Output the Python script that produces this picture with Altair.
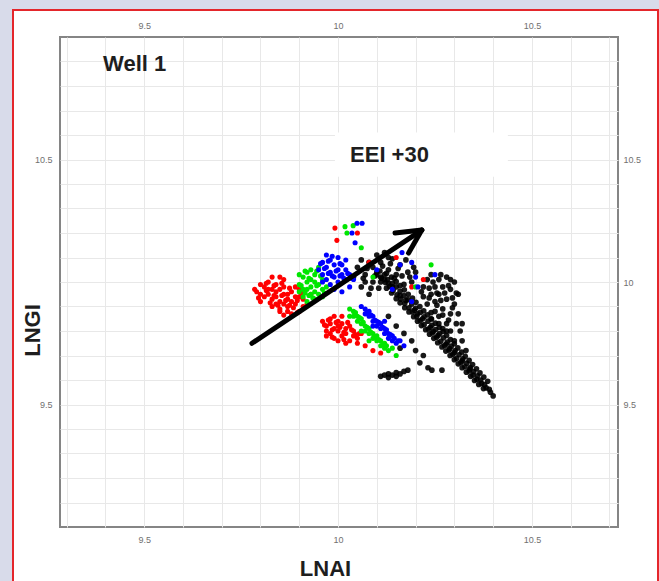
import altair as alt
import pandas as pd

# Crossplot of LNAI vs LNGI, Well 1, samples grouped by colour
red_pts = [
    (9.79, 9.96), (9.80, 9.99), (9.81, 9.94), (9.80, 9.92), (9.82, 9.97), (9.82, 10.00),
    (9.83, 9.93), (9.83, 9.90), (9.84, 9.96), (9.84, 9.99), (9.85, 9.92), (9.85, 9.89),
    (9.86, 9.95), (9.86, 9.98), (9.86, 10.01), (9.87, 9.93), (9.87, 9.90), (9.88, 9.96),
    (9.88, 9.87), (9.89, 9.94), (9.89, 9.91), (9.90, 9.97), (9.90, 9.88), (9.91, 9.93),
    (9.91, 9.90), (9.84, 9.94), (9.83, 9.97), (9.85, 9.97), (9.87, 9.95), (9.88, 9.92),
    (9.86, 9.91), (9.84, 9.91), (9.82, 9.95), (9.81, 9.98), (9.89, 9.98), (9.85, 10.02),
    (9.80, 9.95), (9.92, 9.91), (9.87, 9.88), (9.85, 9.88), (9.90, 9.94), (9.83, 10.02),
    (9.785, 9.97), (9.86, 9.865), (9.93, 9.95),
    (9.795, 9.935), (9.815, 9.965), (9.825, 9.915), (9.835, 9.985), (9.845, 9.905),
    (9.855, 9.945), (9.865, 9.925), (9.875, 9.975), (9.885, 9.895), (9.895, 9.925),
    (9.905, 9.955), (9.875, 9.905), (9.835, 9.945), (9.855, 9.995), (9.815, 9.995),
    (9.895, 9.875),
    (9.992, 10.22), (9.997, 10.17), (10.05, 10.20), (10.08, 10.08), (10.19, 9.98),
    (10.15, 10.10), (10.22, 10.01),
    (9.96, 9.84), (9.97, 9.82), (9.97, 9.80), (9.98, 9.85), (9.98, 9.83), (9.98, 9.79),
    (9.99, 9.81), (9.99, 9.77), (10.00, 9.84), (10.00, 9.82), (10.00, 9.80), (10.01, 9.78),
    (10.01, 9.83), (10.02, 9.81), (10.02, 9.79), (10.03, 9.76), (10.03, 9.82), (10.04, 9.80),
    (10.04, 9.78), (10.05, 9.77), (10.05, 9.75), (10.06, 9.79), (9.99, 9.86), (10.01, 9.86),
    (10.02, 9.75), (10.07, 9.74), (10.09, 9.72), (10.11, 9.71), (9.97, 9.78), (10.00, 9.76),
    (9.965, 9.825), (9.975, 9.845), (9.985, 9.805), (9.995, 9.835), (10.005, 9.815),
    (10.015, 9.795), (10.025, 9.835), (10.035, 9.805), (10.045, 9.785), (10.015, 9.765),
    (9.985, 9.775), (10.055, 9.79),
]

green_pts = [
    (9.90, 9.96), (9.90, 9.99), (9.91, 10.02), (9.91, 9.94), (9.92, 9.97), (9.92, 10.00),
    (9.92, 10.04), (9.93, 9.95), (9.93, 9.98), (9.93, 10.01), (9.94, 9.93), (9.94, 9.96),
    (9.94, 10.03), (9.95, 9.99), (9.95, 9.95), (9.95, 10.06), (9.96, 10.01), (9.96, 9.97),
    (9.91, 9.97), (9.94, 10.00), (9.93, 10.05), (9.92, 9.92), (9.96, 9.94), (9.97, 9.98),
    (9.90, 10.03),
    (9.905, 9.985), (9.915, 9.955), (9.925, 10.015), (9.935, 9.935), (9.945, 9.985),
    (9.955, 10.025), (9.965, 9.955), (9.925, 9.945), (9.945, 10.045), (9.915, 10.045),
    (10.018, 10.226), (10.023, 10.20), (10.039, 10.23), (10.06, 10.14), (10.09, 10.02),
    (10.20, 9.98), (10.24, 10.07),
    (10.03, 9.89), (10.04, 9.88), (10.04, 9.86), (10.05, 9.86), (10.05, 9.84), (10.06, 9.85),
    (10.06, 9.83), (10.07, 9.82), (10.07, 9.80), (10.08, 9.81), (10.08, 9.79), (10.09, 9.79),
    (10.09, 9.77), (10.10, 9.78), (10.10, 9.76), (10.11, 9.76), (10.11, 9.74), (10.12, 9.75),
    (10.12, 9.73), (10.13, 9.72), (10.14, 9.73), (10.03, 9.86), (10.06, 9.80), (10.08, 9.76),
    (10.15, 9.70),
    (10.045, 9.875), (10.055, 9.855), (10.065, 9.835), (10.075, 9.815), (10.085, 9.795),
    (10.095, 9.775), (10.105, 9.765), (10.115, 9.745), (10.125, 9.74),
]

blue_pts = [
    (9.95, 10.05), (9.96, 10.08), (9.96, 10.03), (9.97, 10.06), (9.97, 10.01), (9.98, 10.09),
    (9.98, 10.04), (9.98, 9.99), (9.99, 10.07), (9.99, 10.02), (10.00, 10.05), (10.00, 10.10),
    (10.00, 10.00), (10.01, 10.03), (10.01, 10.07), (10.02, 10.01), (10.02, 10.05), (10.03, 9.98),
    (10.03, 10.03), (9.97, 10.11), (9.99, 9.97), (10.04, 10.01), (9.96, 10.00), (10.01, 9.96),
    (10.02, 10.09),
    (9.955, 10.075), (9.965, 10.055), (9.975, 10.085), (9.985, 10.025), (9.995, 10.045),
    (10.005, 10.075), (10.015, 10.015), (10.025, 10.035), (10.035, 10.015), (9.985, 10.105),
    (10.005, 10.025), (9.975, 10.035),
    (10.036, 10.20), (10.049, 10.24), (10.062, 10.24), (10.044, 10.16), (10.10, 10.05),
    (10.165, 10.12), (10.19, 10.08), (10.20, 10.02), (10.206, 9.98), (10.25, 10.03),
    (10.14, 9.97), (10.16, 10.07), (10.19, 9.92),
    (10.06, 9.90), (10.07, 9.89), (10.07, 9.87), (10.08, 9.88), (10.08, 9.86), (10.09, 9.86),
    (10.09, 9.84), (10.10, 9.84), (10.10, 9.82), (10.11, 9.83), (10.11, 9.81), (10.12, 9.81),
    (10.12, 9.79), (10.13, 9.79), (10.13, 9.77), (10.14, 9.78), (10.14, 9.76), (10.15, 9.75),
    (10.16, 9.76), (10.09, 9.82), (10.12, 9.84), (10.17, 9.74),
    (10.075, 9.875), (10.085, 9.865), (10.095, 9.845), (10.105, 9.835), (10.115, 9.815),
    (10.125, 9.805), (10.135, 9.785), (10.145, 9.77), (10.155, 9.76),
]

black_pts = [
    # main diagonal trend
    (10.108, 10.045), (10.120, 10.030), (10.112, 10.015), (10.128, 10.010), (10.122, 9.998),
    (10.140, 9.995), (10.133, 9.982), (10.150, 9.980), (10.142, 9.965), (10.160, 9.962),
    (10.152, 9.948), (10.170, 9.945), (10.162, 9.930), (10.180, 9.928), (10.172, 9.912),
    (10.190, 9.910), (10.183, 9.895), (10.200, 9.893), (10.192, 9.878), (10.212, 9.876),
    (10.203, 9.860), (10.222, 9.858), (10.212, 9.843), (10.232, 9.840), (10.222, 9.826),
    (10.242, 9.823), (10.233, 9.808), (10.252, 9.806), (10.243, 9.792), (10.262, 9.789),
    (10.254, 9.775), (10.272, 9.772), (10.265, 9.758), (10.282, 9.755), (10.275, 9.740),
    (10.292, 9.738), (10.286, 9.722), (10.302, 9.720), (10.296, 9.705), (10.312, 9.703),
    (10.306, 9.688), (10.322, 9.686), (10.317, 9.671), (10.332, 9.668), (10.327, 9.654),
    (10.341, 9.651), (10.338, 9.637), (10.350, 9.634), (10.348, 9.620), (10.360, 9.617),
    (10.358, 9.603), (10.368, 9.600), (10.370, 9.586), (10.378, 9.581), (10.382, 9.568),
    (10.390, 9.562), (10.393, 9.550), (10.400, 9.535),
    (10.175, 9.925), (10.197, 9.885), (10.218, 9.850), (10.238, 9.815), (10.258, 9.782),
    (10.279, 9.747), (10.300, 9.712), (10.320, 9.678), (10.340, 9.645), (10.205, 9.870),
    (10.246, 9.798), (10.288, 9.728), (10.160, 9.945), (10.130, 9.995),
    (10.100, 10.030), (10.110, 10.000), (10.125, 9.975), (10.138, 9.955), (10.150, 9.932),
    (10.160, 9.915), (10.172, 9.895), (10.183, 9.878), (10.195, 9.858), (10.205, 9.840),
    (10.215, 9.822), (10.226, 9.805), (10.236, 9.787), (10.247, 9.770), (10.257, 9.752),
    (10.268, 9.735), (10.278, 9.718), (10.289, 9.700), (10.300, 9.683), (10.310, 9.666),
    (10.320, 9.650), (10.331, 9.632), (10.342, 9.615), (10.352, 9.598), (10.363, 9.582),
    (10.375, 9.565),
    (10.138, 10.020), (10.150, 10.002), (10.160, 9.985), (10.171, 9.968), (10.181, 9.950),
    (10.192, 9.934), (10.201, 9.917), (10.211, 9.900), (10.221, 9.882), (10.231, 9.866),
    (10.241, 9.849), (10.251, 9.832), (10.261, 9.815), (10.271, 9.798), (10.280, 9.782),
    (10.290, 9.765), (10.300, 9.748), (10.309, 9.731), (10.319, 9.714), (10.328, 9.697),
    (10.338, 9.680), (10.347, 9.663), (10.357, 9.646), (10.366, 9.629), (10.376, 9.612),
    (10.386, 9.595),
    # scatter around the arrow
    (10.05, 10.06), (10.07, 10.03), (10.08, 10.08), (10.09, 10.00), (10.10, 10.04),
    (10.11, 10.08), (10.12, 10.01), (10.13, 10.05), (10.14, 9.98), (10.15, 10.03),
    (10.16, 10.07), (10.17, 9.99), (10.18, 10.04), (10.06, 9.98), (10.08, 9.95),
    (10.10, 10.11), (10.13, 10.10), (10.19, 10.00), (10.07, 10.00), (10.04, 10.02),
    (10.09, 10.06), (10.11, 10.02),
    (10.06, 10.09), (10.075, 10.055), (10.095, 10.025), (10.105, 9.975), (10.115, 10.065),
    (10.125, 10.035), (10.135, 10.075), (10.145, 10.015), (10.155, 10.055), (10.165, 10.025),
    (10.175, 10.09), (10.185, 10.02), (10.195, 10.06), (10.085, 9.975), (10.065, 10.015),
    (10.12, 10.12), (10.14, 10.095), (10.20, 10.04),
    # upper-right cloud
    (10.22, 9.98), (10.23, 10.01), (10.24, 9.95), (10.24, 10.03), (10.25, 9.98),
    (10.25, 9.92), (10.26, 10.01), (10.26, 9.95), (10.27, 9.89), (10.27, 9.98),
    (10.28, 10.02), (10.28, 9.93), (10.29, 9.87), (10.29, 9.97), (10.30, 9.91),
    (10.30, 10.00), (10.26, 9.86), (10.28, 9.83), (10.25, 9.88), (10.23, 9.91),
    (10.27, 9.81), (10.29, 9.80), (10.31, 9.95), (10.24, 9.85), (10.31, 9.87),
    (10.22, 9.94), (10.32, 9.83), (10.30, 9.76), (10.33, 9.72),
    (10.215, 9.96), (10.235, 9.975), (10.245, 10.00), (10.255, 9.955), (10.265, 9.925),
    (10.275, 9.955), (10.285, 9.985), (10.295, 9.935), (10.305, 9.955), (10.255, 9.905),
    (10.27, 9.865), (10.285, 9.845), (10.295, 9.895), (10.305, 9.83), (10.315, 9.80),
    (10.32, 9.76), (10.24, 9.875), (10.26, 9.83), (10.28, 9.80), (10.235, 9.935),
    (10.265, 10.03), (10.29, 10.01),
    # stragglers below the trend
    (10.13, 9.86), (10.15, 9.82), (10.17, 9.79), (10.19, 9.76), (10.16, 9.73),
    (10.20, 9.72), (10.22, 9.70), (10.211, 9.67), (10.232, 9.65), (10.242, 9.64),
    (10.268, 9.64),
    # small group near 9.62
    (10.11, 9.615), (10.12, 9.62), (10.13, 9.625), (10.14, 9.62), (10.15, 9.63),
    (10.16, 9.625), (10.17, 9.635), (10.18, 9.64), (10.13, 9.61), (10.15, 9.615),
]

# EEI +30 arrow: shaft and the two arms of the head
arrow_x = [9.778, 10.147, 10.182]
arrow_y = [9.750, 10.200, 10.118]
arrow_x2 = [10.216, 10.216, 10.216]
arrow_y2 = [10.212, 10.212, 10.212]

x_ticks = [9.5, 10, 10.5]
y_ticks = [9.5, 10, 10.5]
x_grid = [9.3, 9.4, 9.5, 9.6, 9.7, 9.8, 9.9, 10, 10.1, 10.2, 10.3, 10.4, 10.5, 10.6, 10.7]
y_grid = [9.1, 9.2, 9.3, 9.4, 9.5, 9.6, 9.7, 9.8, 9.9, 10, 10.1, 10.2, 10.3, 10.4, 10.5,
          10.6, 10.7, 10.8, 10.9]

W, H = 558, 490
LAV = "#d8dbea"
FONT = "Liberation Sans"


def frame(pts):
    return pd.DataFrame(pts, columns=["lnai", "lngi"])


x_scale = alt.Scale(domain=[9.283, 10.722], nice=False, zero=False)
y_scale = alt.Scale(domain=[9.0, 11.0], nice=False, zero=False)

label_style = dict(labelFontSize=9, labelColor="#707070", labelFont=FONT,
                   ticks=False, domain=False)

x_bottom = alt.Axis(
    orient="bottom", values=x_grid, format="~g",
    labelExpr="(datum.value == 9.5 || datum.value == 10 || datum.value == 10.5) ? datum.label : ''",
    grid=True, gridColor="#e8e8e8", gridWidth=1, labelPadding=8,
    title="LNAI", titleFont=FONT, titleFontSize=22, titleFontWeight="bold",
    titleColor="#1e1e1e", titleX=265, titleY=41, titleBaseline="middle", titleAlign="center",
    **label_style)
y_left = alt.Axis(
    orient="left", values=y_grid, format="~g",
    labelExpr="(datum.value == 9.5 || datum.value == 10.5) ? datum.label : ''",
    grid=True, gridColor="#e8e8e8", gridWidth=1, labelPadding=8,
    title="LNGI", titleFont=FONT, titleFontSize=22, titleFontWeight="bold",
    titleColor="#1e1e1e", titleAngle=270, titleX=-28, titleY=293,
    titleBaseline="middle", titleAlign="center",
    **label_style)
x_top = alt.Axis(orient="top", values=x_ticks, format="~g", grid=False, title=None,
                 labelPadding=7, **label_style)
y_right = alt.Axis(orient="right", values=y_ticks, format="~g", grid=False, title=None,
                   labelPadding=5, **label_style)

# page frame: lavender margin and red border around the white sheet
one = pd.DataFrame({"k": [0]})
left_strip = alt.Chart(one).mark_rect(color=LAV, clip=False).encode(
    x=alt.value(-60), x2=alt.value(-47), y=alt.value(-37), y2=alt.value(H + 54))
top_strip = alt.Chart(one).mark_rect(color=LAV, clip=False).encode(
    x=alt.value(-60), x2=alt.value(W + 41), y=alt.value(-37), y2=alt.value(-27))
border = alt.Chart(one).mark_rect(fill=None, fillOpacity=0, stroke="#e4262b",
                                  strokeWidth=2, clip=False).encode(
    x=alt.value(-47), x2=alt.value(W + 40), y=alt.value(-27), y2=alt.value(H + 70))

# label box behind EEI +30
box = alt.Chart(pd.DataFrame({"x": [9.992], "x2": [10.438], "y": [10.61], "y2": [10.43]})
                ).mark_rect(color="white").encode(
    x=alt.X("x:Q", scale=x_scale, axis=None), x2="x2",
    y=alt.Y("y:Q", scale=y_scale, axis=None), y2="y2")

black = alt.Chart(frame(black_pts)).mark_circle(
    color="#000000", size=32, opacity=0.9
).encode(x=alt.X("lnai:Q", scale=x_scale, axis=x_bottom),
         y=alt.Y("lngi:Q", scale=y_scale, axis=y_left))

red = alt.Chart(frame(red_pts)).mark_circle(color="#ff0000", size=26, opacity=1).encode(
    x=alt.X("lnai:Q", scale=x_scale, axis=x_top),
    y=alt.Y("lngi:Q", scale=y_scale, axis=y_right))

green = alt.Chart(frame(green_pts)).mark_circle(color="#00e600", size=26, opacity=1).encode(
    x=alt.X("lnai:Q", scale=x_scale, axis=None),
    y=alt.Y("lngi:Q", scale=y_scale, axis=None))

blue = alt.Chart(frame(blue_pts)).mark_circle(color="#0000ff", size=26, opacity=1).encode(
    x=alt.X("lnai:Q", scale=x_scale, axis=None),
    y=alt.Y("lngi:Q", scale=y_scale, axis=None))

arrow = alt.Chart(pd.DataFrame({"x": arrow_x, "y": arrow_y, "x2": arrow_x2, "y2": arrow_y2})
                  ).mark_rule(color="#000000", strokeWidth=5, strokeCap="round").encode(
    x=alt.X("x:Q", scale=x_scale, axis=None), x2="x2",
    y=alt.Y("y:Q", scale=y_scale, axis=None), y2="y2")

notes = alt.Chart(pd.DataFrame({"x": [9.394, 10.031], "y": [10.888, 10.52],
                                "t": ["Well 1", "EEI +30"]})
                  ).mark_text(align="left", baseline="middle", font=FONT, fontSize=22,
                              fontWeight="bold", color="#1e1e1e").encode(
    x=alt.X("x:Q", scale=x_scale, axis=None),
    y=alt.Y("y:Q", scale=y_scale, axis=None), text="t:N")

chart = alt.layer(
    black, red, box, green, blue, arrow, notes, left_strip, top_strip, border
).resolve_axis(x="independent", y="independent").properties(
    width=W, height=H,
    autosize=alt.AutoSizeParams(type="none"),
    padding={"left": 60, "top": 37, "right": 41, "bottom": 54},
    background="white",
).configure_view(stroke="#858585", strokeWidth=2, fill="white")

chart.save("out.html", embed_options={"renderer": "svg", "actions": False})
